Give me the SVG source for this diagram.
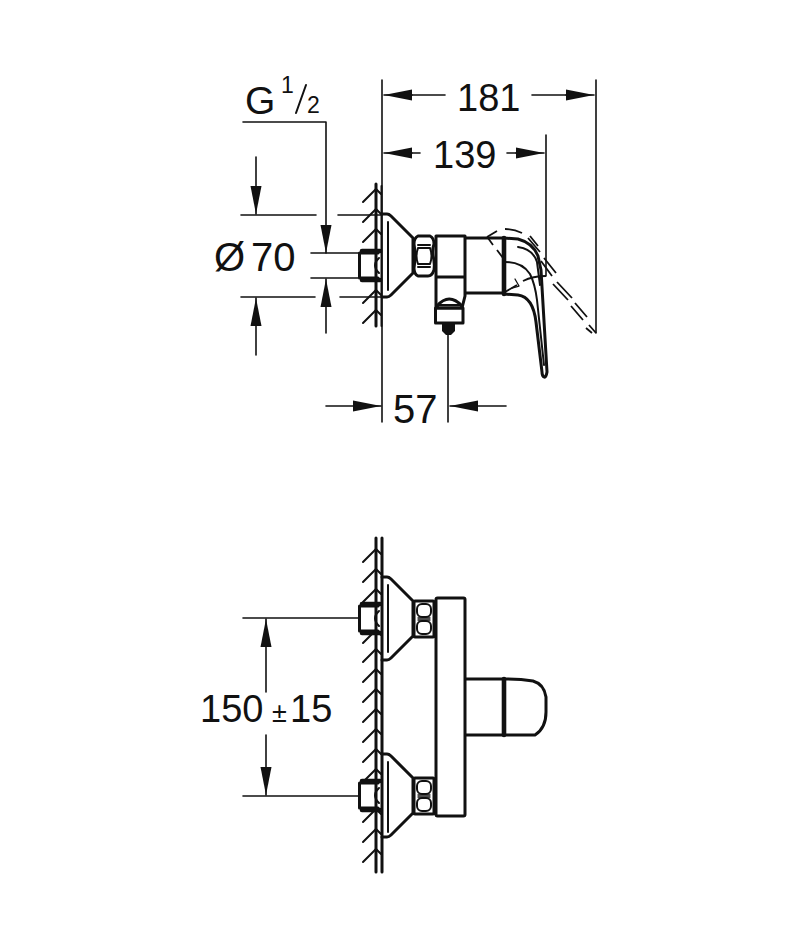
<svg xmlns="http://www.w3.org/2000/svg" width="800" height="950" viewBox="0 0 800 950">
<defs>
<marker id="ah" markerUnits="userSpaceOnUse" markerWidth="30" markerHeight="12" refX="28" refY="6" orient="auto-start-reverse"><path d="M0 0.5L28 6L0 11.5Z" fill="#111"/></marker>
<path id="ch" d="M-13 13L0 0L5 5"/>
<path id="flange" d="M0 0H5Q7 0 9 2L31 24V59L9 81Q7 83 5 83H0"/>
<g id="fit"><path class="thick" d="M20 0H1.5V25H20"/><path class="vthick" d="M4 -2H22M4 27H22"/><path class="med" d="M21 5Q13 12 21 20"/></g>
<g id="nut"><rect class="thick" x="0" y="0" width="20" height="36" rx="1"/><rect class="med" x="3" y="3" width="14" height="13" rx="5"/><rect class="med" x="3" y="20" width="14" height="13" rx="5"/><path class="thin" d="M4 17H16M4 19H16"/></g>
</defs>
<style>
text{font-family:"Liberation Sans",Arial,sans-serif;font-size:38px;fill:#111}
.l,.thin,.med,.thick,.vthick,.hat,.dash{fill:none;stroke:#111;stroke-linecap:round;stroke-linejoin:round}
.l{stroke-width:1.6}.thin{stroke-width:1.3}.med{stroke-width:2}.thick{stroke-width:3}.vthick{stroke-width:4.6}.hat{stroke-width:2}
.dash{stroke-width:1.8;stroke-linecap:butt}
.a{marker-end:url(#ah)}
</style>
<rect width="800" height="950" fill="#fff"/>
<g id="dimensions-top" class="l">
<path class="l" d="M382 80V422M596 80V333M546 135V276M448 335V422"/>
<path class="l a" d="M412 95H384"/><path class="l" d="M412 95H445"/>
<path class="l a" d="M566 95H594"/><path class="l" d="M532 95H566"/>
<path class="l a" d="M412 153H384"/><path class="l" d="M412 153H420"/>
<path class="l a" d="M516 153H544"/><path class="l" d="M507 153H516"/>
<path class="l" d="M243 122H326V226M311 253H360M311 278H358M241 215H316M338 215H382M241 297H315M340 297H382"/>
<path class="l a" d="M326 226V253"/>
<path class="l a" d="M326 306V279"/><path class="l" d="M326 306V333"/>
<path class="l a" d="M256 187V214"/><path class="l" d="M256 157V187"/>
<path class="l a" d="M256 325V298"/><path class="l" d="M256 325V355"/>
<path class="l a" d="M354 406H381"/><path class="l" d="M326 406H354"/>
<path class="l a" d="M477 406H450"/><path class="l" d="M477 406H506"/>
</g>
<g id="dimensions-bottom">
<path class="l" d="M243 618H358M243 796H358"/>
<path class="l a" d="M266 646V619"/><path class="l" d="M266 646V692"/>
<path class="l a" d="M266 768V795"/><path class="l" d="M266 735V768"/>
</g>
<g id="labels">
<text x="245" y="114" style="font-size:39px">G</text>
<text x="281" y="93" style="font-size:23px">1</text>
<path class="med" d="M296 113L306 85"/>
<text x="307" y="113" style="font-size:23px">2</text>
<text x="457" y="111">181</text>
<text x="433" y="168">139</text>
<text x="214" y="271" style="font-size:40px">Ø</text>
<text x="251" y="271" style="font-size:40px">70</text>
<text x="393" y="423" style="font-size:40px">57</text>
<text x="200" y="722">150</text>
<text x="272" y="722" style="font-size:27px">±</text>
<text x="290" y="722">15</text>
</g>
<g id="wall-top">
<path class="thick" d="M376 184V326"/><path class="med" d="M381.5 186V326"/>
<g class="hat"><use href="#ch" x="376" y="189"/><use href="#ch" x="376" y="209"/><use href="#ch" x="376" y="229"/><use href="#ch" x="376" y="290"/><use href="#ch" x="376" y="310"/></g>
</g>
<g id="fitting-top">
<use href="#flange" x="382" y="214" class="thick"/>
<path class="med" d="M388 222V290"/>
<use href="#fit" x="358" y="253"/>
<path class="thick" d="M418 236H430Q434 238 434 244Q432 250 433 256Q435 262 434 270Q432 276 428 276H418Q414 274 414 268Q416 256 414 244Q414 238 418 236Z"/>
<path class="med" d="M418 245H430M418 248H430M418 264H430M418 267H430M418 248Q415 256 418 264M430 248Q433 256 430 264"/>
</g>
<g id="body-top">
<path class="thick" d="M436 236H465V296L462 308H436V236ZM436 277H465"/>
<path class="thick" d="M435.500 308H463V323H435.500ZM437 306Q449 292 462 306"/>
<path class="med" d="M437 305H462"/>
<path d="M442 323H455V331L451 335H446L442 331Z" fill="#111"/>
<path class="thick" d="M466 238H504M466 293H504"/>
<path class="vthick" d="M504 238V294"/>
</g>
<g id="lever-top">
<path class="thick" d="M504 238L518 239Q533 243 538 256L541 270L547 372Q546 378 544 377Q542 376 542 372L536 322Q533 297 518 295L504 294"/>
<path class="med" d="M518 247Q533 249 537 262L540 285"/>
<path class="med" d="M505 262Q522 262 530 274Q535 284 537 300L544 365"/>
</g>
<g id="lever-dashed" class="dash">
<path class="dash" d="M487 237L497 231M505 229Q514 229 522 233M528 238L540 252M544 258L556 273M557 282L572 298M575 303L587 317M589 325L596 333"/>
<path class="dash" d="M530 236L538 246M541 261L552 276M553 284L568 300M571 306L583 320M586 328L592 333"/>
<path class="dash" d="M488 238L493 245M497 250L503 258M505 292L517 285M523 281Q533 276 546 276"/>
<path class="thin" d="M515 279L519 286L512 288"/>
</g>
<g id="wall-bottom">
<path class="thick" d="M376 538V872M382 538V872"/>
<g class="hat"><use href="#ch" x="376" y="549"/><use href="#ch" x="376" y="569"/><use href="#ch" x="376" y="589"/><use href="#ch" x="376" y="630"/><use href="#ch" x="376" y="649"/><use href="#ch" x="376" y="669"/><use href="#ch" x="376" y="689"/><use href="#ch" x="376" y="709"/><use href="#ch" x="376" y="729"/><use href="#ch" x="376" y="749"/><use href="#ch" x="376" y="769"/><use href="#ch" x="376" y="809"/><use href="#ch" x="376" y="829"/><use href="#ch" x="376" y="849"/></g>
</g>
<g id="fitting-bottom-upper">
<use href="#flange" x="382" y="577" class="thick"/>
<path class="med" d="M388 585V652"/>
<use href="#fit" x="358" y="606"/>
<use href="#nut" x="414" y="601"/>
</g>
<g id="fitting-bottom-lower">
<use href="#flange" x="382" y="754" class="thick"/>
<path class="med" d="M388 762V832"/>
<use href="#fit" x="358" y="783"/>
<use href="#nut" x="414" y="778"/>
</g>
<g id="body-bottom">
<rect class="thick" x="436" y="598" width="29" height="218" rx="1.500"/>
<path class="thick" d="M466 679H504M466 735H535Q546 728 546 712V697Q544 684 533 681Q520 679 504 679"/>
<path class="vthick" d="M504 679V735"/>
</g>
</svg>
